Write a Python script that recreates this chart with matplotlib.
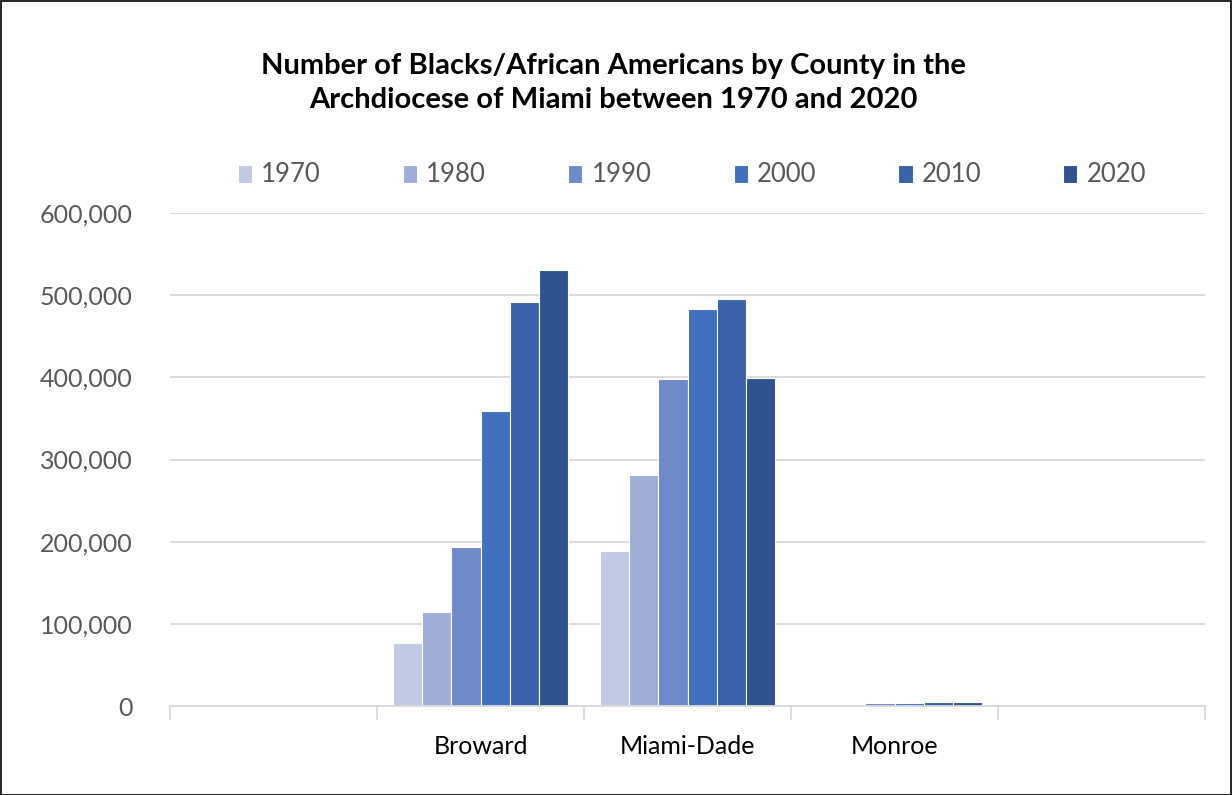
import matplotlib
matplotlib.use("Agg")
import matplotlib.pyplot as plt
from matplotlib.patches import Rectangle
import numpy as np

plt.rcParams['font.family'] = ['Lato', 'DejaVu Sans']

categories = ["", "Broward", "Miami-Dade", "Monroe", ""]
years = ["1970", "1980", "1990", "2000", "2010", "2020"]
values = {
    "1970": [0, 77000, 189000, 0, 0],
    "1980": [0, 114000, 281000, 0, 0],
    "1990": [0, 194000, 398000, 3800, 0],
    "2000": [0, 359000, 483000, 3600, 0],
    "2010": [0, 492000, 495000, 4300, 0],
    "2020": [0, 531000, 399000, 4300, 0],
}
colors = ["#C0CAE4", "#9FAED8", "#6E8ACB", "#4170BE", "#3A62A8", "#2F5391"]
yticks = [0, 100000, 200000, 300000, 400000, 500000, 600000]

W, H = 1232, 795
fig = plt.figure(figsize=(W / 100, H / 100), dpi=100)
ax = fig.add_axes([170 / W, 1 - 706 / H, (1205 - 170) / W, (706 - 213) / H])

x = np.arange(len(categories))
bw = 0.141
for i, (yr, c) in enumerate(zip(years, colors)):
    offs = (i - 2.5) * bw
    ax.bar(x + offs, values[yr], width=bw, color=c, edgecolor="white",
           linewidth=0.8, label=yr, zorder=3)

ax.set_xlim(-0.5, len(categories) - 0.5)
ax.set_ylim(0, 600000)
ax.set_yticks(yticks)
ax.set_yticklabels([f"{v:,}" for v in yticks])
ax.yaxis.grid(True, color="#D9D9D9", linewidth=1.3, zorder=0)
ax.set_axisbelow(True)
for s in ["top", "right", "left"]:
    ax.spines[s].set_visible(False)
ax.spines["bottom"].set_color("#D9D9D9")
ax.spines["bottom"].set_linewidth(1.3)
ax.spines["bottom"].set_zorder(4)
ax.tick_params(axis="y", length=0, labelsize=18, labelcolor="#595959", pad=27)

# category labels between boundary tick marks
ax.set_xticks(x)
ax.set_xticklabels(categories)
ax.tick_params(axis="x", length=0, labelsize=18, labelcolor="#000000", pad=21)
ax.set_xticks(np.arange(len(categories) + 1) - 0.5, minor=True)
ax.tick_params(axis="x", which="minor", length=10, width=1.3, color="#D9D9D9")

fig.text(613 / W, 1 - 83 / H,
         "Number of Blacks/African Americans by County in the\nArchdiocese of Miami between 1970 and 2020",
         ha="center", va="center", fontsize=21, fontweight="bold", linespacing=1.4)

leg = fig.legend(loc="center", bbox_to_anchor=(692 / W, 1 - 175 / H), ncol=6,
                 frameon=False, fontsize=18.5, handlelength=0.55, handleheight=0.7,
                 handletextpad=0.35, columnspacing=3.2, labelcolor="#595959")

fig.patches.append(Rectangle((0.5 / W, 0.5 / H), 1 - 1.5 / W, 1 - 1.5 / H,
                             transform=fig.transFigure, fill=False,
                             edgecolor="black", linewidth=1.2))

fig.savefig("out.png", dpi=100, facecolor="white")
